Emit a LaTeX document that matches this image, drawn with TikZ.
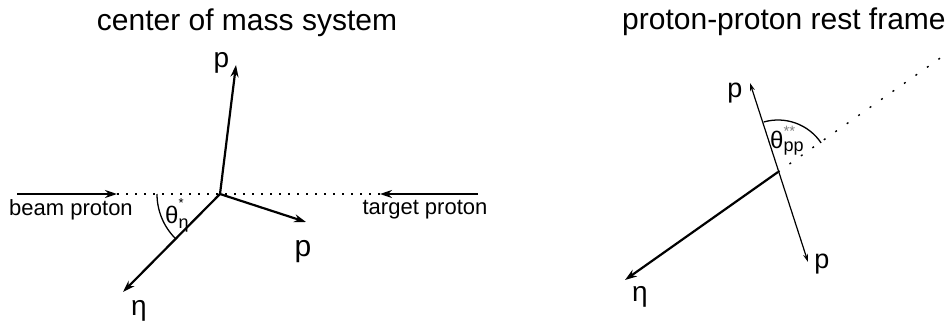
\documentclass[tikz,border=0pt]{standalone}
\usepackage{fontspec}
\setmainfont{Liberation Sans}
\usetikzlibrary{arrows.meta}
\begin{document}
\begin{tikzpicture}[x=1pt,y=-1pt,
  thickarr/.style={line width=2.2pt,-{Stealth[length=12pt,width=8pt]}},
  thinarr/.style={line width=1.2pt,{Stealth[length=8pt,width=5pt]}-{Stealth[length=8pt,width=5pt]}},
  dotline/.style={line width=1.3pt,dash pattern=on 2pt off 7pt},
  dotlineB/.style={line width=1.4pt,dash pattern=on 2pt off 12pt},
  anglearc/.style={line width=1.3pt},
  titlefont/.style={font=\fontsize{30}{30}\selectfont,inner sep=0pt},
  smallfont/.style={font=\fontsize{22}{22}\selectfont,anchor=base,inner sep=0pt},
  labfont/.style={font=\fontsize{28}{28}\selectfont,anchor=base,inner sep=0pt}
]
\path[use as bounding box] (0,0) rectangle (946,322);

% ---------- left: center of mass system ----------
\node[titlefont,anchor=base] (tA) at (247,30) {center of mass system};

\coordinate (O) at (220,194);
\coordinate (beamS) at (17,194);
\coordinate (beamE) at (117,194);
\coordinate (targS) at (478,194);
\coordinate (targE) at (380,194);
\coordinate (pUp) at (236,65);
\coordinate (pRt) at (306,222);
\coordinate (etaA) at (123,292);

\draw[dotline] (beamE) -- (targE);
\draw[thickarr] (beamS) -- (beamE);
\draw[thickarr] (targS) -- (targE);
\draw[thickarr] (O) -- (pUp);
\draw[thickarr] (O) -- (pRt);
\draw[thickarr] (O) -- (etaA);
\draw[anglearc] (O) ++(180:63) arc[start angle=180, end angle=134.7, radius=63];

\node[smallfont] (lbeam) at (71,215) {beam proton};
\node[smallfont] (ltarg) at (425,214) {target proton};
\node[labfont] (lpUp) at (221.5,67) {p};
\node[labfont,font=\fontsize{30}{30}\selectfont] (lpRt) at (303,256) {p};
\node[labfont] (letaA) at (139,315) {η};
\node[anchor=base west,inner sep=0pt,font=\fontsize{24}{24}\selectfont] (thA) at (165,223)
  {θ\rlap{\raisebox{16pt}{\fontsize{13}{13}\selectfont *}}\raisebox{-5pt}{\fontsize{18}{18}\selectfont η}};

% ---------- right: proton-proton rest frame ----------
\node[titlefont,anchor=base west] (tB) at (622,29) {proton-proton rest frame};

\coordinate (O2) at (778,172);
\coordinate (ppUp) at (750,83);
\coordinate (ppDn) at (808,262);
\coordinate (etaB) at (625,280);
\coordinate (dotEnd) at (946,54);

\draw[dotlineB] (O2) -- (dotEnd);
\draw[thinarr] (ppUp) -- (ppDn);
\draw[thickarr] (O2) -- (etaB);
\draw[anglearc] (O2) ++(-106:52) arc[start angle=-106, end angle=-34, radius=52];

\node[labfont,font=\fontsize{27}{27}\selectfont] (lppUp) at (735,97) {p};
\node[labfont,font=\fontsize{27}{27}\selectfont] (lppDn) at (822,268) {p};
\node[labfont] (letaB) at (640,301.5) {η};
\node[anchor=base west,inner sep=0pt,font=\fontsize{24}{24}\selectfont] (thB) at (770,148)
  {θ\rlap{\raisebox{12pt}{\color{gray}\fontsize{15}{15}\selectfont **}}\raisebox{-3pt}{\fontsize{18}{18}\selectfont pp}};
\end{tikzpicture}
\end{document}
